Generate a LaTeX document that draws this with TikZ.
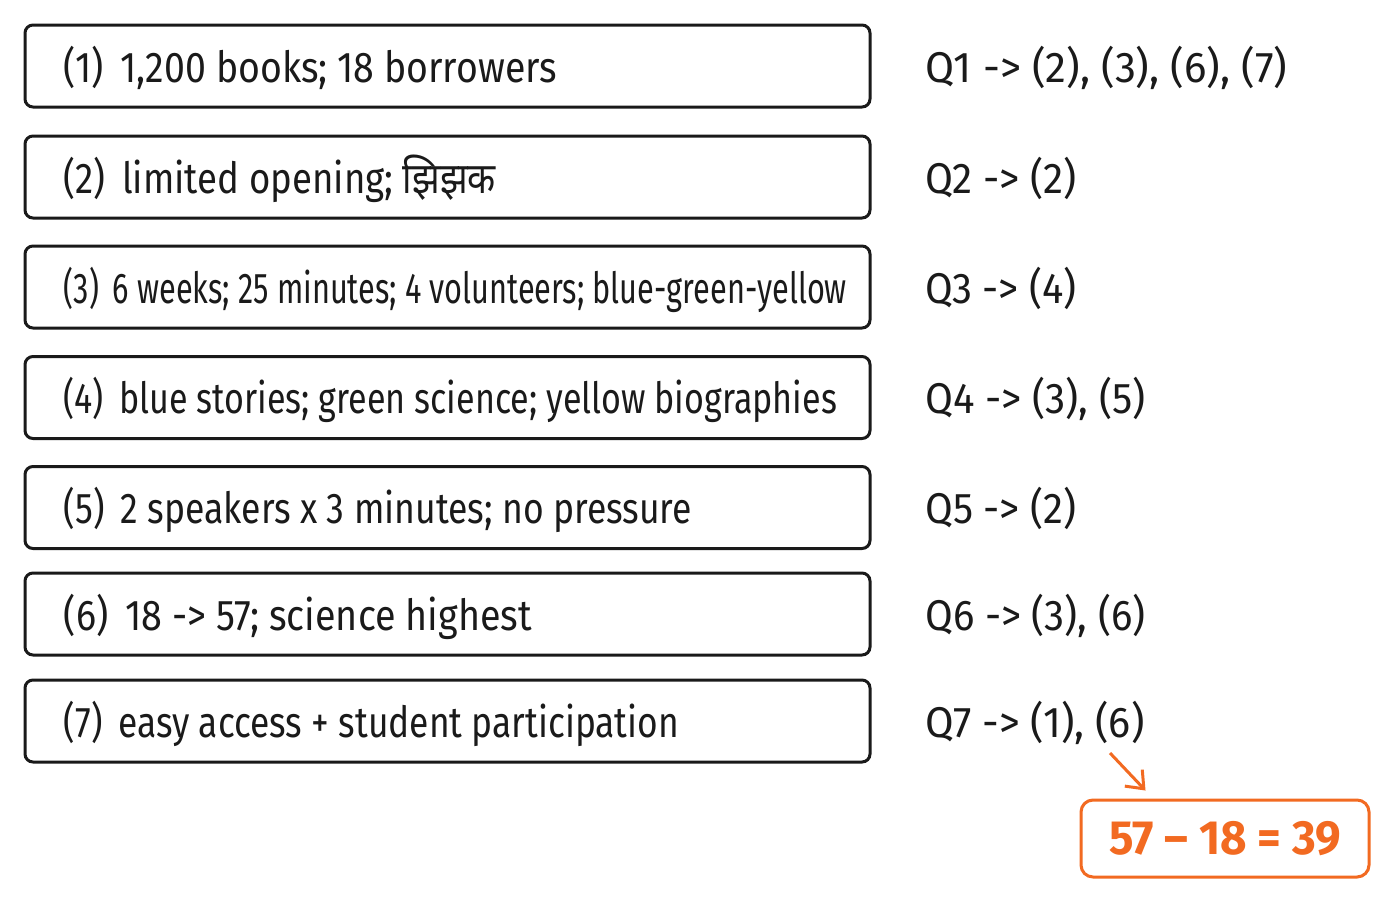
\documentclass[tikz,border=0pt]{standalone}
\usepackage{fontspec}
\usepackage{graphicx}
\setmainfont{Fira Sans}
\newfontfamily\devfont[Script=Devanagari]{Noto Sans}
\usetikzlibrary{arrows.meta,calc}
\definecolor{ink}{HTML}{1A1A1A}
\definecolor{accent}{HTML}{F26A21}
\newcommand{\fitw}[2]{\resizebox{#1}{\height}{#2}}
\newcommand{\gapp}{\hspace{0.45em}}
\tikzset{
  box/.style={draw=ink, line width=1.5pt, rounded corners=4pt, minimum width=422.5pt, minimum height=41pt, inner sep=0pt},
  btext/.style={anchor=base west, inner sep=0pt, text=ink, font=\fontsize{21.5}{25}\selectfont},
  qtext/.style={anchor=base west, inner sep=0pt, text=ink, font=\fontsize{21.5}{25}\selectfont},
  resbox/.style={draw=accent, line width=1.5pt, rounded corners=6pt, minimum width=144pt, minimum height=38.5pt, inner sep=0pt, text=accent, font=\fontsize{24}{28}\selectfont\bfseries},
  resarrow/.style={draw=accent, line width=1.5pt, -{Straight Barb[length=7.5pt,width=12pt,line width=1.5pt]}}
}
\begin{document}
\begin{tikzpicture}[x=0.5pt,y=-0.5pt]
\useasboundingbox (0,0) rectangle (1400,900);
\fill[white] (0,0) rectangle (1400,900);
% boxes
\node[box] (b1) at (447.5,66) {};
\node[box] (b2) at (447.5,177) {};
\node[box] (b3) at (447.5,287) {};
\node[box] (b4) at (447.5,397.5) {};
\node[box] (b5) at (447.5,507.5) {};
\node[box] (b6) at (447.5,614) {};
\node[box] (b7) at (447.5,721) {};
% box texts
\node[btext] (t1) at ($(b1.west)+(40,16)$) {\fitw{246.5pt}{(1)\gapp 1,200 books; 18 borrowers}};
\node[btext] (t2) at ($(b2.west)+(40,16)$) {\fitw{216pt}{(2)\gapp limited opening; {\devfont झिझक}}};
\node[btext] (t3) at ($(b3.west)+(40,16)$) {\fitw{391.5pt}{(3)\gapp 6 weeks; 25 minutes; 4 volunteers; blue-green-yellow}};
\node[btext] (t4) at ($(b4.west)+(40,16)$) {\fitw{386.5pt}{(4)\gapp blue stories; green science; yellow biographies}};
\node[btext] (t5) at ($(b5.west)+(40,16)$) {\fitw{314pt}{(5)\gapp 2 speakers x 3 minutes; no pressure}};
\node[btext] (t6) at ($(b6.west)+(40,16)$) {\fitw{234pt}{(6)\gapp 18 -> 57; science highest}};
\node[btext] (t7) at ($(b7.west)+(40,16)$) {\fitw{307.5pt}{(7)\gapp easy access + student participation}};
% question mapping
\node[qtext] (q1) at (925,82) {\fitw{181pt}{Q1 -> (2), (3), (6), (7)}};
\node[qtext] (q2) at (925,193) {\fitw{75.5pt}{Q2 -> (2)}};
\node[qtext] (q3) at (925,303) {\fitw{75.5pt}{Q3 -> (4)}};
\node[qtext] (q4) at (925,413.5) {\fitw{110pt}{Q4 -> (3), (5)}};
\node[qtext] (q5) at (925,523.5) {\fitw{75.5pt}{Q5 -> (2)}};
\node[qtext] (q6) at (925,630) {\fitw{110pt}{Q6 -> (3), (6)}};
\node[qtext] (q7) at (925,737) {\fitw{109.5pt}{Q7 -> (1), (6)}};
% result
\node[resbox] (res) at (1225,838.5) {\fitw{116pt}{57 – 18 = 39}};
\coordinate (astart) at (1110,753);
\draw[resarrow] (astart) -- ($(res.north west)+(66,-8)$);
\end{tikzpicture}
\end{document}
